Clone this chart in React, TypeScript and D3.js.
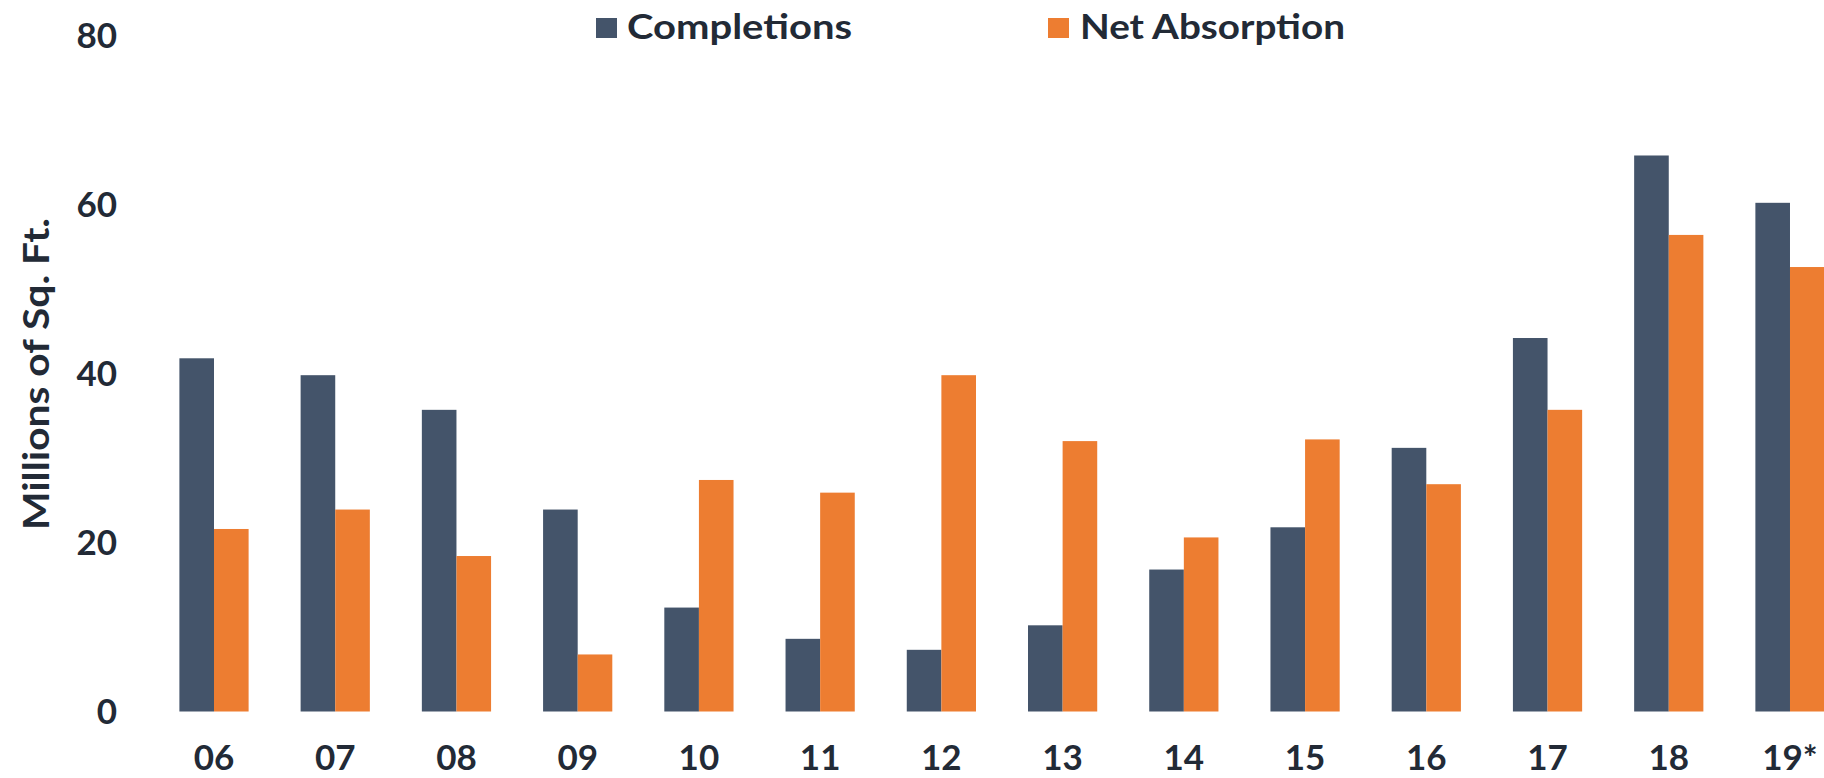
import React from "react";
import * as d3 from "d3";

// Industrial supply vs. demand, millions of sq. ft. per year
const years = ["06", "07", "08", "09", "10", "11", "12", "13", "14", "15", "16", "17", "18", "19*"];
const completions = [41.8, 39.8, 35.7, 23.9, 12.3, 8.6, 7.3, 10.2, 16.8, 21.8, 31.2, 44.2, 65.8, 60.2];
const netAbsorption = [21.6, 23.9, 18.4, 6.75, 27.4, 25.9, 39.8, 32.0, 20.6, 32.2, 26.9, 35.7, 56.4, 52.6];
const seriesNames = ["Completions", "Net Absorption"];
const yTicks = [0, 20, 40, 60, 80];

const W = 1824;
const H = 778;
const COLORS = ["#44546a", "#ed7d31"];
const TEXT = "#222a36";
const FONT = "Lato, 'Open Sans', sans-serif";

export default function App() {
  const step = 121.23;
  const firstCenter = 214;
  const x0 = d3
    .scaleBand<string>()
    .domain(years)
    .range([firstCenter - step / 2, firstCenter - step / 2 + step * years.length])
    .paddingInner(0.429)
    .paddingOuter(0.2145);
  const x1 = d3.scaleBand<string>().domain(seriesNames).range([0, x0.bandwidth()]).padding(0);
  const y = d3.scaleLinear().domain([0, 80]).range([711.5, 35.5]);
  const color = d3.scaleOrdinal<string, string>().domain(seriesNames).range(COLORS);

  const rows = years.map((yr, i) => ({
    year: yr,
    values: [completions[i], netAbsorption[i]],
  }));

  const legend = [
    { name: seriesNames[0], sx: 596, tx: 627, len: 225 },
    { name: seriesNames[1], sx: 1048, tx: 1080, len: 265 },
  ];

  return (
    <svg
      width={W}
      height={H}
      viewBox={`0 0 ${W} ${H}`}
      style={{ position: "absolute", left: 0, top: 0, overflow: "hidden", background: "#fff" }}
    >
      <rect width={W} height={H} fill="#ffffff" />

      {/* bars */}
      {rows.map((r) => (
        <g key={r.year} transform={`translate(${x0(r.year)},0)`}>
          {r.values.map((v, j) => (
            <rect
              key={seriesNames[j]}
              x={x1(seriesNames[j])}
              y={y(v)}
              width={x1.bandwidth()}
              height={y(0) - y(v)}
              fill={color(seriesNames[j])}
            />
          ))}
        </g>
      ))}

      {/* y tick labels */}
      {yTicks.map((t) => (
        <text
          key={t}
          x={117}
          y={y(t)}
          dy="0.35em"
          textAnchor="end"
          fontFamily={FONT}
          fontWeight={700}
          fontSize={35}
          fill={TEXT}
        >
          {t}
        </text>
      ))}

      {/* x tick labels */}
      {years.map((yr) => (
        <text
          key={yr}
          x={(x0(yr) as number) + x0.bandwidth() / 2}
          y={770}
          textAnchor="middle"
          fontFamily={FONT}
          fontWeight={700}
          fontSize={35}
          fill={TEXT}
        >
          {yr}
        </text>
      ))}

      {/* y axis title */}
      <text
        transform={`translate(49,374) rotate(-90)`}
        textAnchor="middle"
        fontFamily={FONT}
        fontWeight={700}
        fontSize={37}
        fill={TEXT}
        textLength={312}
        lengthAdjust="spacingAndGlyphs"
      >
        Millions of Sq. Ft.
      </text>

      {/* legend */}
      {legend.map((l) => (
        <g key={l.name}>
          <rect x={l.sx} y={18} width={21} height={20} fill={color(l.name)} />
          <text
            x={l.tx}
            y={39}
            fontFamily={FONT}
            fontWeight={700}
            fontSize={35}
            fill={TEXT}
            textLength={l.len}
            lengthAdjust="spacingAndGlyphs"
          >
            {l.name}
          </text>
        </g>
      ))}
    </svg>
  );
}
